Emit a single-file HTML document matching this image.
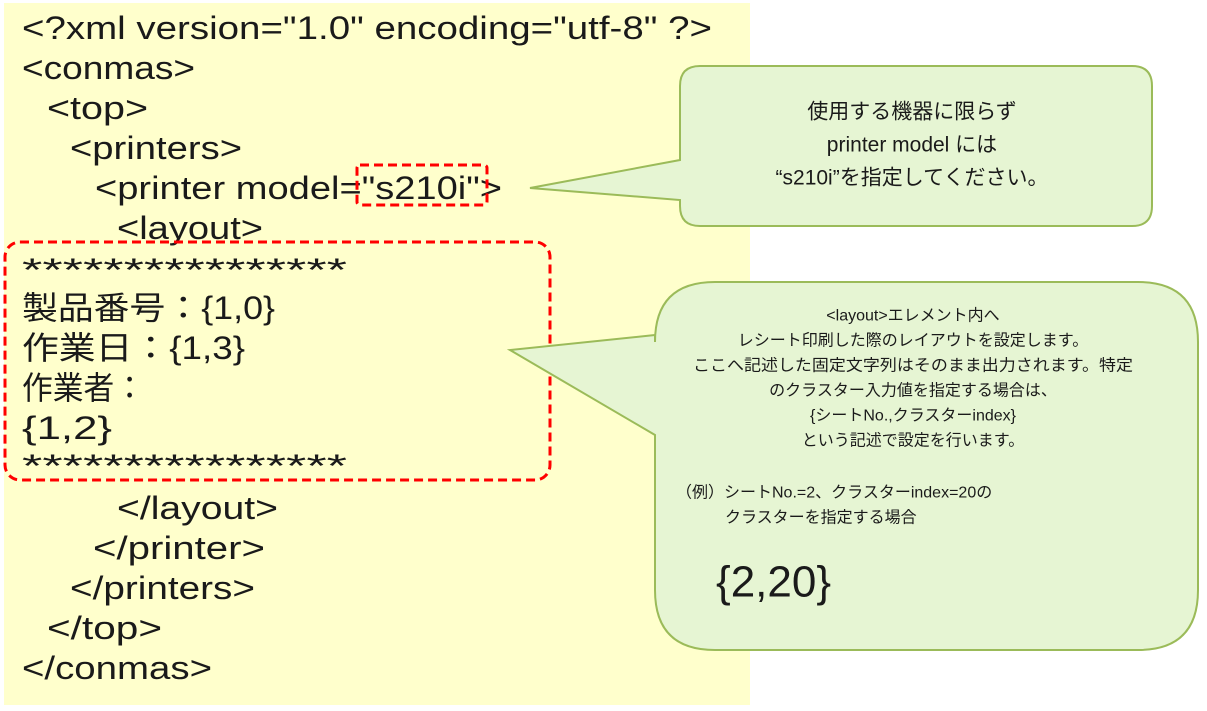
<!DOCTYPE html>
<html><head><meta charset="utf-8"><style>
html,body{margin:0;padding:0;background:#fff;}
svg{display:block;}
text{font-family:"Liberation Sans","Noto Sans CJK JP",sans-serif;fill:#1a1a1a;}
</style></head><body>
<svg width="1207" height="711" viewBox="0 0 1207 711" xmlns="http://www.w3.org/2000/svg">
<rect x="4" y="3" width="746" height="702" fill="#ffffcc"/>
<g font-size="32" dominant-baseline="central">
<text x="22" y="28" textLength="690" lengthAdjust="spacingAndGlyphs">&lt;?xml version="1.0" encoding="utf-8" ?&gt;</text>
<text x="22" y="68" textLength="173" lengthAdjust="spacingAndGlyphs">&lt;conmas&gt;</text>
<text x="47" y="108" textLength="101" lengthAdjust="spacingAndGlyphs">&lt;top&gt;</text>
<text x="70" y="148" textLength="172" lengthAdjust="spacingAndGlyphs">&lt;printers&gt;</text>
<text x="95" y="188" textLength="407" lengthAdjust="spacingAndGlyphs">&lt;printer model="s210i"&gt;</text>
<text x="117" y="228" textLength="146" lengthAdjust="spacingAndGlyphs">&lt;layout&gt;</text>
<text x="22" y="270" textLength="325" lengthAdjust="spacingAndGlyphs">****************</text>
<text x="22" y="308" textLength="253" lengthAdjust="spacingAndGlyphs">製品番号：{1,0}</text>
<text x="22" y="348" textLength="223" lengthAdjust="spacingAndGlyphs">作業日：{1,3}</text>
<text x="22" y="388" textLength="123" lengthAdjust="spacingAndGlyphs">作業者：</text>
<text x="22" y="428" textLength="90" lengthAdjust="spacingAndGlyphs">{1,2}</text>
<text x="22" y="466" textLength="325" lengthAdjust="spacingAndGlyphs">****************</text>
<text x="117" y="508" textLength="161" lengthAdjust="spacingAndGlyphs">&lt;/layout&gt;</text>
<text x="93" y="548" textLength="172" lengthAdjust="spacingAndGlyphs">&lt;/printer&gt;</text>
<text x="70" y="588" textLength="185" lengthAdjust="spacingAndGlyphs">&lt;/printers&gt;</text>
<text x="47" y="628" textLength="115" lengthAdjust="spacingAndGlyphs">&lt;/top&gt;</text>
<text x="22" y="668" textLength="190" lengthAdjust="spacingAndGlyphs">&lt;/conmas&gt;</text>
</g>
<rect x="357" y="165" width="130" height="40" rx="3" fill="none" stroke="#ff0000" stroke-width="3" stroke-dasharray="9,5"/>
<rect x="5" y="242" width="545" height="238" rx="15" fill="none" stroke="#ff0000" stroke-width="3" stroke-dasharray="9,5"/>
<path d="M700,66 H1132 Q1152,66 1152,86 V206 Q1152,226 1132,226 H700 Q680,226 680,206 V200 L530,188 L680,160 V86 Q680,66 700,66 Z" fill="#e6f5d3" stroke="#9bbb59" stroke-width="2"/>
<g font-size="21" text-anchor="middle" dominant-baseline="central">
<text x="912" y="112">使用する機器に限らず</text>
<text x="912" y="145">printer model には</text>
<text x="912" y="178">“s210i”を指定してください。</text>
</g>
<path d="M715,282 H1138 Q1198,282 1198,342 V590 Q1198,650 1138,650 H715 Q655,650 655,590 V435 L510,350 L655,335 V342 Q655,282 715,282 Z" fill="#e6f5d3" stroke="#9bbb59" stroke-width="2"/>
<g font-size="16" text-anchor="middle" dominant-baseline="central">
<text x="913" y="316">&lt;layout&gt;エレメント内へ</text>
<text x="913" y="341">レシート印刷した際のレイアウトを設定します。</text>
<text x="913" y="366" textLength="440" lengthAdjust="spacingAndGlyphs">ここへ記述した固定文字列はそのまま出力されます。特定</text>
<text x="913" y="391">のクラスター入力値を指定する場合は、</text>
<text x="913" y="416">{シートNo.,クラスターindex}</text>
<text x="913" y="441">という記述で設定を行います。</text>
</g>
<g font-size="16" dominant-baseline="central">
<text x="676" y="493">（例）シートNo.=2、クラスターindex=20の</text>
<text x="725" y="518">クラスターを指定する場合</text>
</g>
<text x="716" y="582" font-size="44" dominant-baseline="central">{2,20}</text>
</svg>
</body></html>
